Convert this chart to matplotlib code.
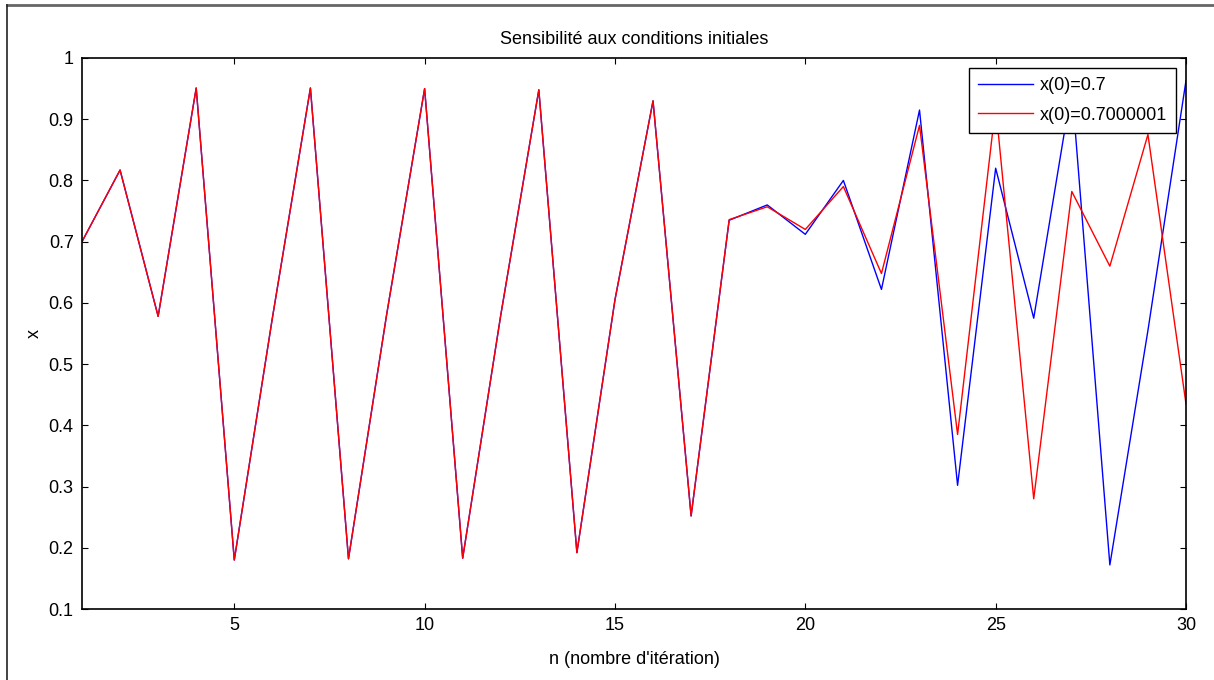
import numpy as np
import matplotlib.pyplot as plt
from matplotlib.lines import Line2D

plt.rcParams['font.family'] = ['Liberation Sans', 'DejaVu Sans']

# values
n = list(range(1, 31))
x_a = [0.700, 0.817, 0.578, 0.951, 0.180, 0.575, 0.951, 0.182, 0.580, 0.950,
       0.183, 0.580, 0.948, 0.192, 0.605, 0.930, 0.252, 0.735, 0.760, 0.712,
       0.800, 0.622, 0.915, 0.302, 0.820, 0.575, 0.952, 0.172, 0.555, 0.963]
x_b = [0.700, 0.817, 0.578, 0.951, 0.180, 0.575, 0.951, 0.182, 0.580, 0.950,
       0.183, 0.580, 0.948, 0.192, 0.605, 0.930, 0.252, 0.736, 0.757, 0.720,
       0.790, 0.648, 0.890, 0.385, 0.922, 0.280, 0.782, 0.660, 0.875, 0.435]
labels = ['x(0)=0.7', 'x(0)=0.7000001']
xticks = [5, 10, 15, 20, 25, 30]
yticks = [0.1, 0.2, 0.3, 0.4, 0.5, 0.6, 0.7, 0.8, 0.9, 1.0]
yticklabels = ['0.1', '0.2', '0.3', '0.4', '0.5', '0.6', '0.7', '0.8', '0.9', '1']

fs = 13
fig = plt.figure(figsize=(12.14, 6.8), dpi=100)
ax = fig.add_axes([82/1214, 71/680, 1104/1214, 551/680])

ax.plot(n, x_a, color='#0000ff', lw=1, label=labels[0])
ax.plot(n, x_b, color='#ff0000', lw=1, label=labels[1])

ax.set_xlim(1, 30)
ax.set_ylim(0.1, 1.0)
ax.set_xticks(xticks)
ax.set_yticks(yticks)
ax.set_yticklabels(yticklabels)
ax.tick_params(direction='in', length=4, width=0.8, top=True, right=True,
               labelsize=fs, colors='black', pad=6)
for s in ax.spines.values():
    s.set_linewidth(1.2)

ax.set_title('Sensibilité aux conditions initiales', fontsize=fs, pad=10)
ax.set_xlabel("n (nombre d'itération)", fontsize=fs, labelpad=12)
ax.set_ylabel('x', fontsize=fs, labelpad=4)

leg = ax.legend(loc='upper right', fontsize=fs, frameon=True, fancybox=False,
                shadow=False, framealpha=1.0, handlelength=3.0,
                handletextpad=0.4, borderaxespad=0.55, borderpad=0.5,
                labelspacing=0.7)
leg.get_frame().set_edgecolor('black')
leg.get_frame().set_linewidth(1.0)

# outer frame of the original window (top and left edges only)
fig.add_artist(Line2D([7/1214, 1.0], [1 - 5/680, 1 - 5/680],
                      transform=fig.transFigure, color='#666666', lw=2))
fig.add_artist(Line2D([7/1214, 7/1214], [0.0, 1 - 5/680],
                      transform=fig.transFigure, color='#222222', lw=1.2))

fig.savefig('out.png', dpi=100)
